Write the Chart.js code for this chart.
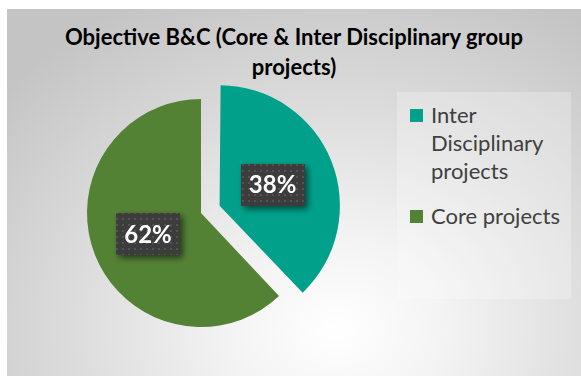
<!DOCTYPE html>
<html>
<head>
<meta charset="utf-8">
<script src="https://cdn.jsdelivr.net/npm/chart.js@4/dist/chart.umd.min.js"></script>
<style>
  html, body { margin: 0; padding: 0; background: #ffffff; }
  #wrap { position: relative; width: 581px; height: 376px; overflow: hidden; background: #ffffff; }
  #panel {
    position: absolute; left: 7px; top: 9px; width: 574px; height: 367px;
    background: radial-gradient(ellipse 440px 370px at 330px 320px, #ffffff 0%, #f3f3f3 25%, #dcdcdc 60%, #c4c4c4 100%);
  }
  #legendBox {
    position: absolute; left: 397px; top: 92px; width: 174px; height: 207px;
    background: rgba(255, 255, 255, 0.25);
  }
  #title {
    position: absolute; left: 7px; top: 22px; width: 574px; text-align: center;
    font: 700 22px Lato, "Open Sans", sans-serif; line-height: 30px; color: #000000;
  }
  #legend {
    position: absolute; left: 410px; top: 101px; width: 168px;
    font: 400 22px Lato, "Open Sans", sans-serif; line-height: 28px; color: #404040;
  }
  .item { position: relative; padding-left: 21px; margin-bottom: 17px; white-space: nowrap; }
  .swatch { position: absolute; left: 0; top: 8px; width: 13px; height: 13px; }
  canvas { position: absolute; left: 0; top: 0; }
</style>
</head>
<body>
<div id="wrap">
  <div id="panel"></div>
  <div id="legendBox"></div>
  <div id="title"></div>
  <div id="legend"></div>
  <canvas id="chart" width="581" height="376"></canvas>
</div>
<script>
// Share of group projects by type (percent)
const titleLines = ['Objective B&C (Core & Inter Disciplinary group', 'projects)'];
const categories = ['Inter Disciplinary projects', 'Core projects'];
const legendLines = [['Inter', 'Disciplinary', 'projects'], ['Core projects']];
const shares = [38, 62];
const sliceColors = ['#00A08A', '#548235'];
// Chart.js moves an arc out by a quarter of its offset option
const sliceOffsets = [80, 0];

// Title
document.getElementById('title').innerHTML = titleLines
  .map(t => t.replace(/&/g, '&amp;')).join('<br>');

// Legend, one entry per category
const legendEl = document.getElementById('legend');
categories.forEach((name, i) => {
  const item = document.createElement('div');
  item.className = 'item';
  item.title = name;
  const sw = document.createElement('span');
  sw.className = 'swatch';
  sw.style.background = sliceColors[i];
  item.appendChild(sw);
  item.insertAdjacentHTML('beforeend', legendLines[i].join('<br>'));
  legendEl.appendChild(item);
});

// Dotted dark fill used behind the value labels
function dotPattern(ctx) {
  const c = document.createElement('canvas');
  c.width = 6; c.height = 6;
  const g = c.getContext('2d');
  g.fillStyle = '#3c3c3c';
  g.fillRect(0, 0, 6, 6);
  g.fillStyle = '#535353';
  g.fillRect(2, 2, 2, 2);
  return ctx.createPattern(c, 'repeat');
}

// Percentage labels in shaded boxes at the middle of each slice
const valueLabels = {
  id: 'valueLabels',
  afterDatasetsDraw(chart) {
    const ctx = chart.ctx;
    const meta = chart.getDatasetMeta(0);
    const data = chart.data.datasets[0].data;
    const pattern = dotPattern(ctx);
    meta.data.forEach((arc, i) => {
      const p = arc.getProps(['x', 'y', 'startAngle', 'endAngle', 'outerRadius'], true);
      const mid = (p.startAngle + p.endAngle) / 2;
      const d = (arc.options.offset || 0) / 4 + p.outerRadius * 0.5;
      const cx = p.x + Math.cos(mid) * d;
      const cy = p.y + Math.sin(mid) * d;
      const text = data[i] + '%';
      ctx.save();
      ctx.font = '700 24px Lato, "Open Sans", sans-serif';
      const w = ctx.measureText(text).width + 16;
      const h = 42;
      ctx.shadowColor = 'rgba(0,0,0,0.55)';
      ctx.shadowBlur = 6;
      ctx.shadowOffsetX = 3;
      ctx.shadowOffsetY = 3;
      ctx.fillStyle = pattern;
      ctx.fillRect(Math.round(cx - w / 2), Math.round(cy - h / 2), Math.round(w), h);
      ctx.restore();
      ctx.save();
      ctx.font = '700 24px Lato, "Open Sans", sans-serif';
      ctx.fillStyle = '#ffffff';
      ctx.textAlign = 'center';
      ctx.textBaseline = 'middle';
      ctx.fillText(text, cx, cy + 1);
      ctx.restore();
    });
  }
};

new Chart(document.getElementById('chart'), {
  type: 'pie',
  data: {
    labels: categories,
    datasets: [{
      data: shares,
      backgroundColor: sliceColors,
      borderWidth: 0,
      offset: sliceOffsets,
      hoverOffset: 0
    }]
  },
  options: {
    responsive: false,
    animation: false,
    radius: 114,
    layout: { padding: { left: 60, right: 239, top: 60, bottom: 10 } },
    plugins: {
      legend: { display: false },
      title: { display: false },
      tooltip: { enabled: false }
    }
  },
  plugins: [valueLabels]
});
</script>
</body>
</html>
